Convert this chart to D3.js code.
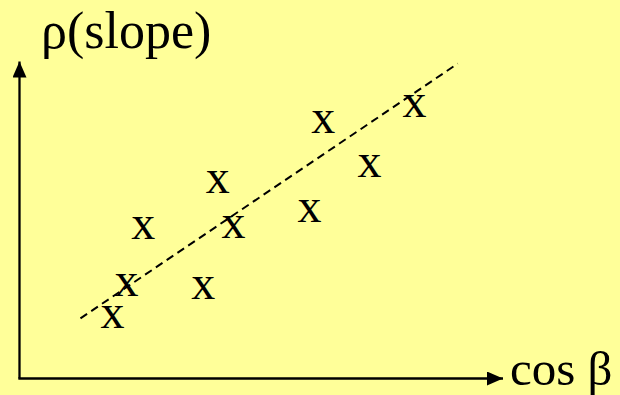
<!DOCTYPE html>
<html><head><meta charset="utf-8"><script src="https://cdn.jsdelivr.net/npm/d3@7"></script></head>
<body style="margin:0;background:#FFFF99">
<svg id="chart" width="620" height="395"></svg>
<script>
// Observations: cos β (horizontal) against ρ(slope) (vertical), in axis units
const cosBeta  = [1.94, 2.23, 2.58, 3.83, 4.13, 4.46, 6.04, 6.33, 7.29, 8.23];
const rhoSlope = [1.91, 2.91, 4.72, 2.84, 6.13, 4.75, 5.25, 8.03, 6.63, 8.53];

// Fitted trend line end points
const fitX = [1.27, 9.13];
const fitY = [1.88, 9.84];

const axisLabels = { x: "cos β", y: "ρ(slope)" };
const markerGlyph = "x";

const origin = { x: 19.5, y: 378.5 };
const faceName = "Liberation Serif";
const face = `'${faceName}'`;

const x = d3.scaleLinear().domain([0, 10]).range([origin.x, origin.x + 480]);
const y = d3.scaleLinear().domain([0, 10]).range([origin.y, origin.y - 320]);

const svg = d3.select("#chart");

// Axis titles
const titles = [
  { str: axisLabels.y, tx: 41, ty: 48, size: 52 },
  { str: axisLabels.x, tx: 510, ty: 385, size: 49 }
];
svg.selectAll("text.title").data(titles).join("text")
  .attr("class", "title")
  .attr("x", d => d.tx).attr("y", d => d.ty)
  .attr("font-size", d => d.size)
  .style("font-family", () => face)
  .text(d => d.str);

// Data markers drawn as glyphs centred on each point
const fs = 48;
svg.selectAll("text.mark").data(d3.zip(cosBeta, rhoSlope)).join("text")
  .attr("class", "mark")
  .attr("x", d => x(d[0]))
  .attr("y", d => y(d[1]) + fs * 0.23)
  .attr("text-anchor", "middle")
  .attr("font-size", fs)
  .style("font-family", () => face)
  .text(markerGlyph);

const defs = svg.append("defs");
defs.append("marker")
  .attr("id", "arrow")
  .attr("viewBox", "0 0 16 14")
  .attr("refX", 16).attr("refY", 7)
  .attr("markerWidth", 16).attr("markerHeight", 14)
  .attr("markerUnits", "userSpaceOnUse")
  .attr("orient", "auto")
  .append("path")
  .attr("d", "M0,0 L16,7 L0,14 Z")
  .attr("fill", "#000");

// Axes with arrow heads
svg.append("path")
  .attr("d", `M${origin.x},${origin.y} L${origin.x},61.5`)
  .attr("stroke", "#000").attr("stroke-width", 2.3).attr("fill", "none")
  .attr("marker-end", "url(#arrow)");

svg.append("path")
  .attr("d", `M${origin.x - 1.15},${origin.y} L503,${origin.y}`)
  .attr("stroke", "#000").attr("stroke-width", 2.3).attr("fill", "none")
  .attr("marker-end", "url(#arrow)");

// Dashed trend line
const line = d3.line().x(d => x(d[0])).y(d => y(d[1]));
svg.append("path")
  .datum(d3.zip(fitX, fitY))
  .attr("d", line)
  .attr("stroke", "#000").attr("stroke-width", 2)
  .attr("stroke-dasharray", "8,5")
  .attr("fill", "none");
</script></body></html>
